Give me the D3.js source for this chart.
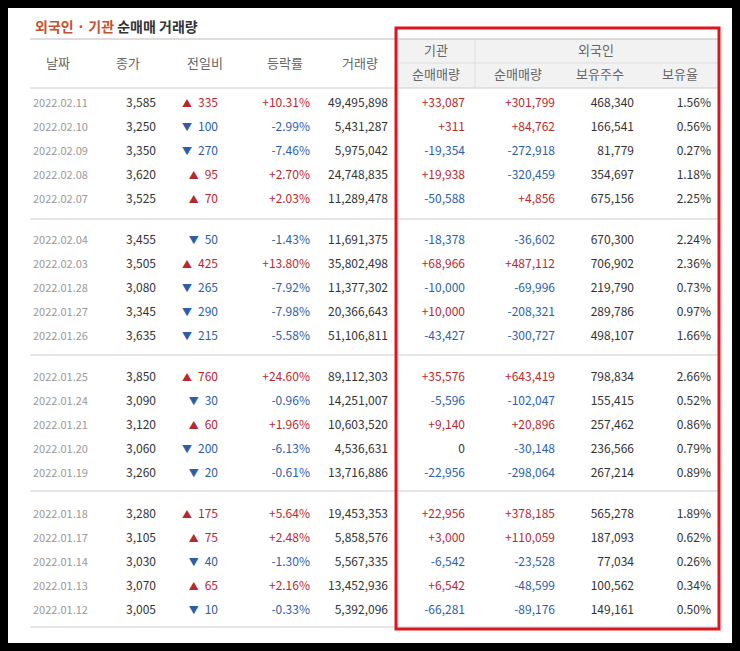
<!DOCTYPE html><html><head><meta charset="utf-8"><script src="https://cdn.jsdelivr.net/npm/d3@7"></script>
<style>body{margin:0;background:#000}</style></head><body><script>
const dates=["2022.02.11","2022.02.10","2022.02.09","2022.02.08","2022.02.07","2022.02.04","2022.02.03","2022.01.28","2022.01.27","2022.01.26","2022.01.25","2022.01.24","2022.01.21","2022.01.20","2022.01.19","2022.01.18","2022.01.17","2022.01.14","2022.01.13","2022.01.12"];
const close=[3585,3250,3350,3620,3525,3455,3505,3080,3345,3635,3850,3090,3120,3060,3260,3280,3105,3030,3070,3005];
const change=[335,-100,-270,95,70,-50,425,-265,-290,-215,760,-30,60,-200,-20,175,75,-40,65,-10];
const rate=[10.31,-2.99,-7.46,2.70,2.03,-1.43,13.80,-7.92,-7.98,-5.58,24.60,-0.96,1.96,-6.13,-0.61,5.64,2.48,-1.30,2.16,-0.33];
const volume=[49495898,5431287,5975042,24748835,11289478,11691375,35802498,11377302,20366643,51106811,89112303,14251007,10603520,4536631,13716886,19453353,5858576,5567335,13452936,5392096];
const instNet=[33087,311,-19354,19938,-50588,-18378,68966,-10000,10000,-43427,35576,-5596,9140,0,-22956,22956,3000,-6542,6542,-66281];
const forNet=[301799,84762,-272918,-320459,4856,-36602,487112,-69996,-208321,-300727,643419,-102047,20896,-30148,-298064,378185,110059,-23528,-48599,-89176];
const forHold=[468340,166541,81779,354697,675156,670300,706902,219790,289786,498107,798834,155415,257462,236566,267214,565278,187093,77034,100562,149161];
const forRate=[1.56,0.56,0.27,1.18,2.25,2.24,2.36,0.73,0.97,1.66,2.66,0.52,0.86,0.79,0.89,1.89,0.62,0.26,0.34,0.50];

const W=740,H=651,RED="#b8292f",BLUE="#2d5fa8",F="'Noto Sans CJK KR','Noto Sans',sans-serif";
const svg=d3.select("body").append("svg").attr("width",W).attr("height",H);
svg.append("rect").attr("width",W).attr("height",H).attr("fill","#000");
svg.append("rect").attr("x",8).attr("y",8).attr("width",724).attr("height",635).attr("fill","#fff");
const t=svg.append("text").attr("x",35).attr("y",32).attr("font-family",F).attr("font-size",14).attr("font-weight","bold");
t.append("tspan").attr("fill","#c8502c").text("외국인 · 기관 ");
t.append("tspan").attr("fill","#333").text("순매매 거래량");
svg.append("rect").attr("x",398).attr("y",39).attr("width",320).attr("height",49).attr("fill","#f2f2f2");
svg.append("line").attr("x1",30).attr("x2",718).attr("y1",39).attr("y2",39).attr("stroke","#bbb");
svg.append("line").attr("x1",30).attr("x2",718).attr("y1",88).attr("y2",88).attr("stroke","#ccc");
svg.append("line").attr("x1",398).attr("x2",718).attr("y1",63).attr("y2",63).attr("stroke","#ddd");
svg.append("line").attr("x1",398).attr("x2",398).attr("y1",39).attr("y2",628).attr("stroke","#ddd");
svg.append("line").attr("x1",475).attr("x2",475).attr("y1",39).attr("y2",88).attr("stroke","#ddd");
const hdr=(x,y,s)=>svg.append("text").attr("x",x).attr("y",y).attr("text-anchor","middle").attr("font-family",F).attr("font-size",13).attr("fill","#666").text(s);
[["날짜",58],["종가",128],["전일비",205],["등락률",285],["거래량",360]].forEach(d=>hdr(d[1],68,d[0]));
hdr(436,55,"기관");hdr(596,55,"외국인");
[["순매매량",436],["순매매량",518],["보유주수",600],["보유율",680]].forEach(d=>hdr(d[1],79,d[0]));
const yPos=i=>103+Math.floor(i/5)*137+(i%5)*24;
[219,355,491,627].forEach(y=>svg.append("line").attr("x1",30).attr("x2",718).attr("y1",y).attr("y2",y).attr("stroke","#ccc"));
const fm=d3.format(","),fmt=v=>fm(v).replace("−","-"),sg=v=>v>0?"+"+fmt(v):fmt(v),col=v=>v>0?RED:v<0?BLUE:"#333";
const cell=(x,y,s,c,a="end",sz=12)=>svg.append("text").attr("x",x).attr("y",y+4).attr("text-anchor",a).attr("font-family",F).attr("font-size",sz).attr("fill",c).text(s);
dates.forEach((d,i)=>{const y=yPos(i);
cell(33,y,d,"#999","start",11);
cell(156,y,fmt(close[i]),"#333");
const ct=cell(218,y,"",col(change[i]));
ct.append("tspan").attr("font-size",10).text(change[i]>0?"▲":"▼");
ct.append("tspan").attr("dx",6).text(fmt(Math.abs(change[i])));
cell(310,y,(rate[i]>0?"+":"")+rate[i].toFixed(2)+"%",col(rate[i]));
cell(388,y,fmt(volume[i]),"#333");
cell(465,y,sg(instNet[i]),col(instNet[i]));
cell(555,y,sg(forNet[i]),col(forNet[i]));
cell(634,y,fmt(forHold[i]),"#333");
cell(711,y,forRate[i].toFixed(2)+"%","#333");
});
svg.append("rect").attr("x",396).attr("y",28).attr("width",323).attr("height",601).attr("fill","none").attr("stroke","#e0141e").attr("stroke-width",3);
</script></body></html>
